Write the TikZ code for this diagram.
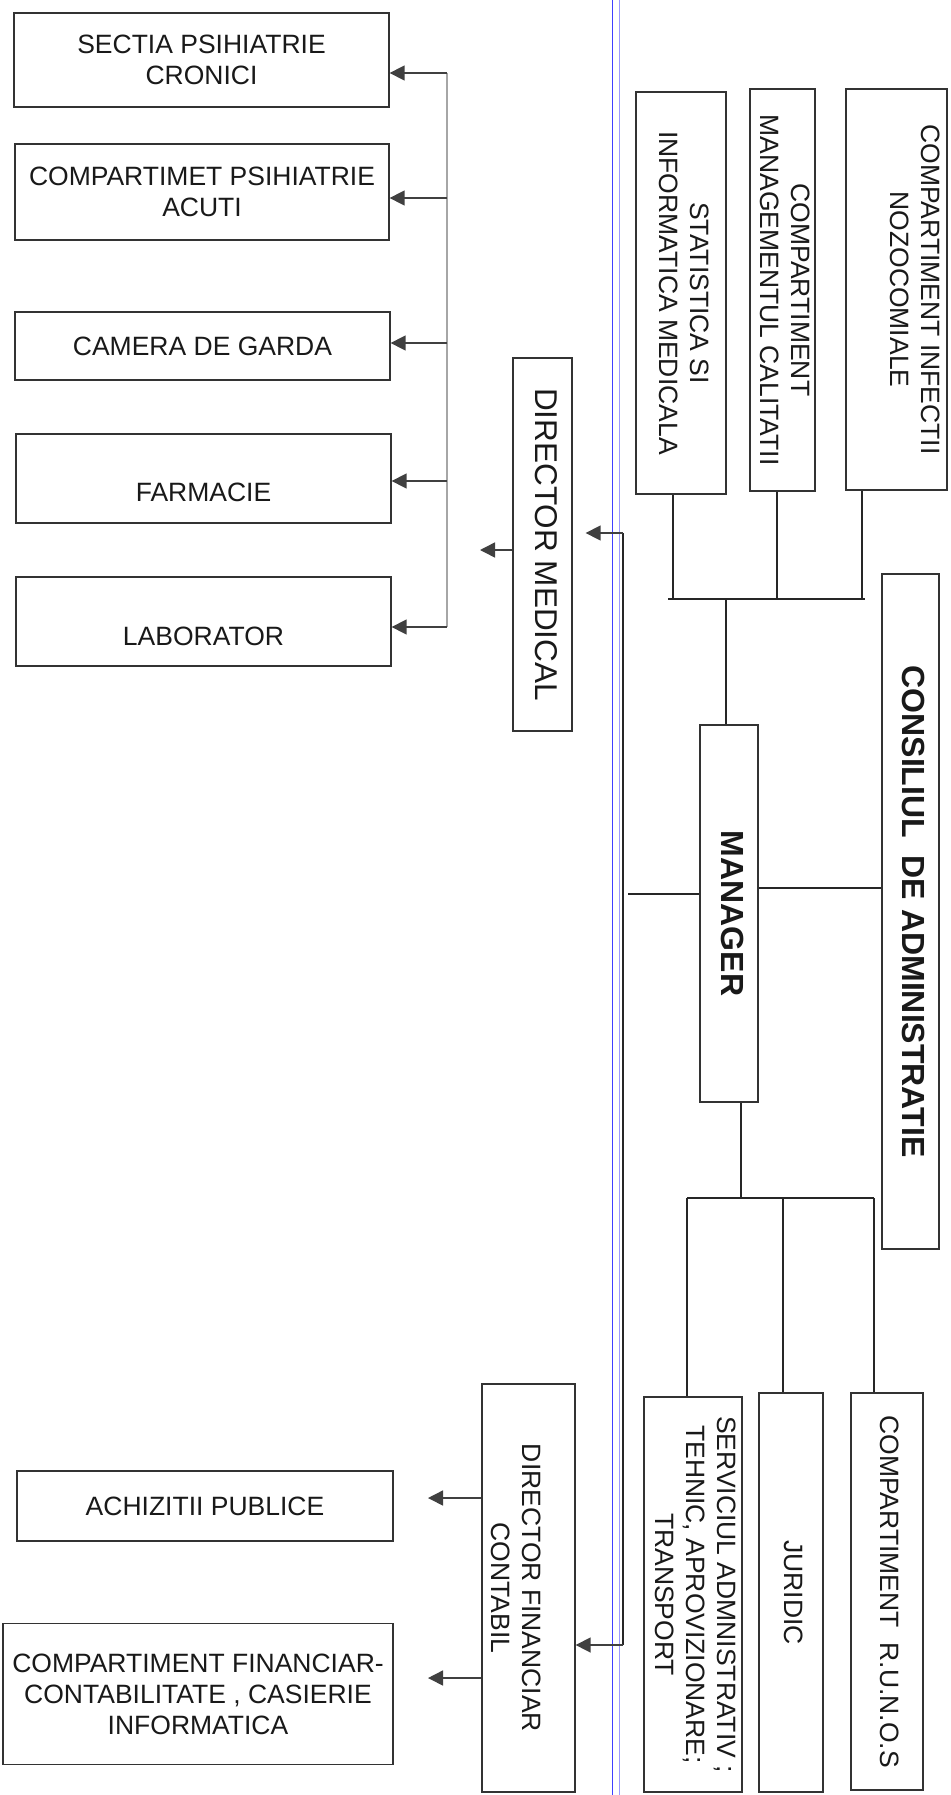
\documentclass[tikz,border=0pt]{standalone}
\usepackage{fontspec}
\setmainfont{Liberation Sans}
\usepackage{graphicx}
\usetikzlibrary{arrows.meta}
\newcommand{\vtxt}[1]{\rotatebox{-90}{\begin{tabular}{@{}c@{}}#1\end{tabular}}}

\begin{document}
\begin{tikzpicture}
[x=1pt, y=-1pt, every node/.style={inner sep=0pt},
 box/.style={rectangle, draw=black!80, line width=1.3pt, align=center, text=black!90, font=\fontsize{26.5}{31}\selectfont},
 bigbox/.style={box, font=\fontsize{32}{38}\selectfont\bfseries},
 link/.style={line width=1.5pt, draw=black!85},
 bus/.style={line width=1.8pt, draw=black!35},
 arr/.style={line width=1.5pt, draw=black!75, -{Triangle[length=15pt, width=15pt, fill=black!75]}}]
\fill [white] (0, 0) rectangle (950, 1795);
\useasboundingbox (0, 0) rectangle (950, 1795);
\draw [line width=0.9pt, color=blue!75] (612, 0) -- (612, 1795);
\draw [line width=0.9pt, color=blue!40] (619, 0) -- (619, 1795);
\node (sectia) [box, minimum width=375pt, minimum height=94pt] at (201.5, 60) {SECTIA PSIHIATRIE\\CRONICI};
\node (acuti) [box, minimum width=374pt, minimum height=96pt] at (202, 192) {COMPARTIMET PSIHIATRIE\\ACUTI};
\node (garda) [box, minimum width=375pt, minimum height=68pt] at (202.5, 346) {CAMERA DE GARDA};
\node (farm) [box, minimum width=375pt, minimum height=89pt, text height=47pt] at (203.5, 478.5) {FARMACIE};
\node (lab) [box, minimum width=375pt, minimum height=89pt, text height=49pt] at (203.5, 621.5) {LABORATOR};
\node (achiz) [box, minimum width=376pt, minimum height=70pt] at (205, 1506) {ACHIZITII PUBLICE};
\node (finctb) [box, minimum width=390pt, minimum height=141pt] at (198, 1694) {COMPARTIMENT FINANCIAR-\\CONTABILITATE , CASIERIE\\INFORMATICA};
\node (dm) [box, minimum width=59pt, minimum height=373pt, font=\fontsize{31.5}{37}\selectfont] at (542.5, 544.5) {\vtxt{DIRECTOR MEDICAL}};
\node (dfc) [box, minimum width=93pt, minimum height=408pt] at (528.5, 1588) {\vtxt{\mbox{}\\DIRECTOR FINANCIAR\\CONTABIL}};
\node (stat) [box, minimum width=90pt, minimum height=402pt] at (681, 293) {\vtxt{STATISTICA SI\\INFORMATICA MEDICALA}};
\node (calit) [box, minimum width=65pt, minimum height=402pt] at (782.5, 290) {\vtxt{COMPARTIMENT\\MANAGEMENTUL CALITATII}};
\node (infect) [box, minimum width=101pt, minimum height=401pt] at (896.5, 289.5) {\vtxt{COMPARTIMENT INFECTII\\NOZOCOMIALE\\\mbox{}}};
\node (manager) [bigbox, minimum width=58pt, minimum height=377pt] at (729, 913.5) {\vtxt{MANAGER}};
\node (consiliu) [bigbox, minimum width=57pt, minimum height=675pt] at (910.5, 911.5) {\vtxt{CONSILIUL\ \ DE ADMINISTRATIE}};
\node (serv) [box, minimum width=98pt, minimum height=395pt] at (693, 1594.5) {\vtxt{SERVICIUL ADMNISTRATIV ;\\TEHNIC, APROVIZIONARE;\\TRANSPORT}};
\node (jur) [box, minimum width=64pt, minimum height=399pt] at (791, 1592.5) {\vtxt{JURIDIC}};
\node (runos) [box, minimum width=72pt, minimum height=397pt] at (887, 1591.5) {\vtxt{COMPARTIMENT\ \ R.U.N.O.S}};
\coordinate (g1) at (447, 73);
\coordinate (g2) at (447, 198);
\coordinate (g3) at (447, 343);
\coordinate (g4) at (447, 481);
\coordinate (g5) at (447, 627);
\draw [bus] (g1) -- (g5);
\draw [arr] (g1) -- (g1 -| sectia.east);
\draw [arr] (g2) -- (g2 -| acuti.east);
\draw [arr] (g3) -- (g3 -| garda.east);
\draw [arr] (g4) -- (g4 -| farm.east);
\draw [arr] (g5) -- (g5 -| lab.east);
\coordinate (dmo) at (480, 550);
\draw [arr] (dmo -| dm.west) -- (dmo);
\coordinate (fo1) at (428, 1498);
\coordinate (fo2) at (428, 1678);
\draw [arr] (fo1 -| dfc.west) -- (fo1);
\draw [arr] (fo2 -| dfc.west) -- (fo2);
\coordinate (vt) at (623, 533);
\coordinate (vb) at (623, 1645);
\draw [link] (vt) -- (vb);
\draw [arr, shorten >=13pt] (vt) -- (vt -| dm.east);
\draw [arr] (vb) -- (vb -| dfc.east);
\coordinate (tbl) at (668, 599);
\coordinate (tbr) at (865, 599);
\draw [link] (tbl) -- (tbr);
\draw [link] ([xshift=-8pt]stat.south) -- ([xshift=-8pt]stat.south |- tbl);
\draw [link] ([xshift=-5.5pt]calit.south) -- ([xshift=-5.5pt]calit.south |- tbl);
\draw [link] ([xshift=-34.5pt]infect.south) -- ([xshift=-34.5pt]infect.south |- tbl);
\draw [link] ([xshift=-3pt]manager.north) -- ([xshift=-3pt]manager.north |- tbl);
\coordinate (ml) at (628, 894);
\draw [link] (ml) -- (ml -| manager.west);
\draw [link] ([yshift=25.5pt]manager.east) -- ([yshift=23.5pt]consiliu.west);
\coordinate (bbl) at (687, 1198);
\coordinate (bbr) at (874, 1198);
\draw [link] (bbl) -- (bbr);
\draw [link] ([xshift=12pt]manager.south) -- ([xshift=12pt]manager.south |- bbl);
\draw [link] (bbl) -- (bbl |- serv.north);
\draw [link] ([xshift=-8pt]jur.north |- bbl) -- ([xshift=-8pt]jur.north);
\draw [link] (bbr) -- (bbr |- runos.north);
\end{tikzpicture}
\end{document}
